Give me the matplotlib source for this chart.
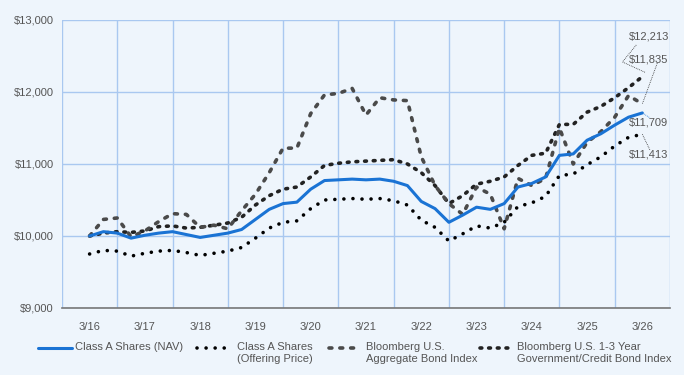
import numpy as np
import matplotlib.pyplot as plt
from matplotlib.lines import Line2D

plt.rcParams['font.family'] = ['Liberation Sans', 'DejaVu Sans']

# quarterly points, 3/16 .. 3/26
years = 2016.17 + 0.25 * np.arange(41)

nav = [10000, 10060, 10040, 9970, 10010, 10040, 10060, 10020, 9980, 10010,
       10040, 10090, 10230, 10370, 10450, 10470, 10650, 10770, 10780, 10790,
       10780, 10790, 10760, 10700, 10480, 10380, 10190, 10290, 10400, 10370,
       10450, 10680, 10730, 10820, 11120, 11140, 11330, 11420, 11540, 11650,
       11709]
offer = [9750, 9800, 9790, 9720, 9760, 9790, 9800, 9770, 9730, 9760,
         9790, 9840, 9970, 10110, 10190, 10210, 10380, 10500, 10510, 10520,
         10510, 10520, 10490, 10430, 10220, 10120, 9930, 10030, 10140, 10110,
         10190, 10410, 10460, 10550, 10840, 10860, 10990, 11100, 11250, 11370,
         11413]
agg = [10000, 10230, 10250, 9990, 10070, 10200, 10310, 10300, 10120, 10150,
       10100, 10350, 10580, 10880, 11220, 11220, 11700, 11960, 11980, 12050,
       11680, 11920, 11890, 11880, 11100, 10700, 10450, 10300, 10680, 10580,
       10100, 10800, 10700, 10800, 11500, 11000, 11300, 11450, 11650, 11950,
       11835]
short = [10000, 10040, 10060, 10050, 10070, 10130, 10140, 10110, 10120, 10150,
         10180, 10260, 10430, 10560, 10650, 10680, 10820, 10980, 11010, 11030,
         11040, 11050, 11060, 11000, 10880, 10700, 10450, 10560, 10720, 10760,
         10820, 10980, 11120, 11150, 11550, 11550, 11720, 11800, 11920, 12060,
         12213]

tick_labels = ['3/16', '3/17', '3/18', '3/19', '3/20', '3/21', '3/22', '3/23', '3/24', '3/25', '3/26']
legend_labels = ['Class A Shares (NAV)', 'Class A Shares\n(Offering Price)',
                 'Bloomberg U.S.\nAggregate Bond Index',
                 'Bloomberg U.S. 1-3 Year\nGovernment/Credit Bond Index']

bg = '#eef5fc'
grid_c = '#a9c8f0'
blue = '#1a73d4'
txt = '#555555'

fig = plt.figure(figsize=(6.84, 3.75), dpi=100, facecolor=bg)
ax = fig.add_axes([0.0906, 0.1787, 0.8889, 0.768], facecolor=bg)

styles = [
    dict(color=blue, lw=2.2, solid_capstyle='round'),
    dict(color='black', lw=2.6, linestyle=(0, (0.01, 2.5)), dash_capstyle='round'),
    dict(color='#4a4a4a', lw=2.6, linestyle=(0, (0.8, 2.2)), dash_capstyle='round'),
    dict(color='#222222', lw=2.6, linestyle=(0, (0.5, 1.9)), dash_capstyle='round'),
]
ax.plot(years, short, zorder=3, **styles[3])
ax.plot(years, agg, zorder=3, **styles[2])
ax.plot(years, offer, zorder=3, **styles[1])
ax.plot(years, nav, zorder=4, **styles[0])

x0 = years[0]
ax.set_xlim(x0 - 0.5, x0 + 10.5)
ax.set_ylim(9000, 13000)
ax.set_xticks(x0 + np.arange(11))
ax.set_xticklabels(tick_labels)
ax.set_xticks(x0 - 0.5 + np.arange(12), minor=True)
ax.set_yticks([9000, 10000, 11000, 12000, 13000])
ax.set_yticklabels(['$9,000', '$10,000', '$11,000', '$12,000', '$13,000'])
ax.grid(True, which='minor', axis='x', color=grid_c, lw=1)
ax.grid(True, which='major', axis='y', color=grid_c, lw=1)
ax.tick_params(which='both', length=0, labelsize=8, labelcolor=txt)
ax.tick_params(axis='x', pad=10)
ax.tick_params(axis='y', pad=6)
for s in ['top', 'right', 'left']:
    ax.spines[s].set_visible(False)
ax.spines['bottom'].set_color('#777777')
ax.spines['bottom'].set_linewidth(1.2)

# end-value labels with dotted leaders
xl = x0 + 9.76
lab = dict(fontsize=8, color=txt, ha='left', va='center', clip_on=False)
ax.text(xl, 12764, '$12,213', **lab)
ax.text(xl, 12458, '$11,835', **lab)
ax.text(xl, 11583, '$11,709', **lab)
ax.text(xl, 11125, '$11,413', **lab)
lead = dict(color='#333333', lw=0.6, linestyle=(0, (1, 1.2)), clip_on=False, zorder=5)
xe = years[-1]
ax.plot([x0 + 9.89, x0 + 9.64, xe + 0.05], [12653, 12417, short[-1] + 60], **lead)
ax.plot([x0 + 10.27, xe], [12400, agg[-1]], **lead)
ax.plot([xe, x0 + 10.14], [nav[-1], 11640], color=blue, lw=0.6, linestyle=(0, (1, 1.2)), clip_on=False)
ax.plot([xe, x0 + 10.14], [offer[-1], 11190], **lead)

# legend drawn by hand
W, H = 684, 375
handle_x = [(38, 72), (197, 233), (329, 356), (480, 512)]
text_x = [75, 237, 366, 517]
ly = 348
for i in range(4):
    xa, xb = handle_x[i]
    fig.add_artist(Line2D([xa / W, xb / W], [1 - ly / H, 1 - ly / H],
                          transform=fig.transFigure, **styles[i]))
    fig.text(text_x[i] / W, 1 - (ly - 6) / H, legend_labels[i], fontsize=8, color=txt,
             ha='left', va='top', linespacing=1.25)

fig.savefig('out.png', dpi=100, facecolor=bg)
